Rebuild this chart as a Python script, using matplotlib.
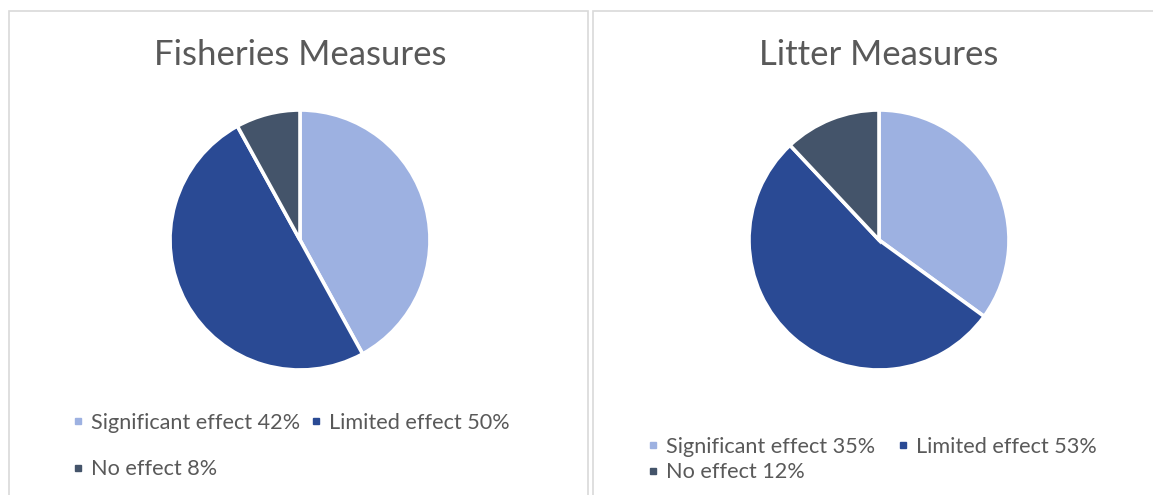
import matplotlib
matplotlib.use("Agg")
import matplotlib.pyplot as plt
from matplotlib.patches import Rectangle
from matplotlib.lines import Line2D

# Survey results: share of respondents per perceived effect
categories = ["Significant effect", "Limited effect", "No effect"]
fisheries_values = [42, 50, 8]
litter_values = [35, 53, 12]
titles = ["Fisheries Measures", "Litter Measures"]
colors = ["#9DB1E1", "#2A4A94", "#44546A"]

W, H = 1153, 495
DPI = 100
fig = plt.figure(figsize=(W / DPI, H / DPI), dpi=DPI)
fig.patch.set_facecolor("white")

FONT = ["Lato", "DejaVu Sans"]
TEXT_COLOR = "#595959"


def px_box(x0, y0, x1, y1):
    """Convert a pixel box (top-left origin) into figure fractions."""
    return [x0 / W, 1 - y1 / H, (x1 - x0) / W, (y1 - y0) / H]


# Chart area borders
for x0, x1 in [(9, 588), (593, 1160)]:
    fig.patches.append(Rectangle((x0 / W, -0.05), (x1 - x0) / W, 1.05 - 10.5 / H,
                                 transform=fig.transFigure, fill=False,
                                 edgecolor="#D9D9D9", linewidth=1.2))

panels = [
    dict(values=fisheries_values, title=titles[0], cx=300, cy=240, r=130,
         title_y=55, leg_x=73, leg_y=413, colspace=0.47, labelspace=1.22),
    dict(values=litter_values, title=titles[1], cx=879, cy=240, r=130,
         title_y=55, leg_x=648, leg_y=437, colspace=1.0, labelspace=0.25),
]

for p in panels:
    ax = fig.add_axes(px_box(p["cx"] - p["r"], p["cy"] - p["r"],
                             p["cx"] + p["r"], p["cy"] + p["r"]))
    ax.pie(p["values"], colors=colors, startangle=90, counterclock=False,
           radius=1.0, wedgeprops=dict(edgecolor="white", linewidth=2.6))
    ax.set_xlim(-1.0, 1.0)
    ax.set_ylim(-1.0, 1.0)
    ax.set_aspect("equal")
    ax.axis("off")

    fig.text(p["cx"] / W, 1 - p["title_y"] / H, p["title"], ha="center",
             va="center", fontsize=25, color=TEXT_COLOR, family=FONT)

    labels = [f"{c} {v}%" for c, v in zip(categories, p["values"])]
    handles = [Line2D([], [], linestyle="none", marker="s", markersize=5,
                      markerfacecolor=col, markeredgecolor=col) for col in colors]
    order = [0, 2, 1]
    leg = fig.legend([handles[i] for i in order], [labels[i] for i in order],
                     ncol=2, loc="upper left",
                     bbox_to_anchor=(p["leg_x"] / W, 1 - p["leg_y"] / H),
                     frameon=False, handlelength=0.5, handletextpad=0.35,
                     columnspacing=p["colspace"], labelspacing=p["labelspace"],
                     borderpad=0, borderaxespad=0,
                     prop=dict(family=FONT, size=15.6))
    for t in leg.get_texts():
        t.set_color(TEXT_COLOR)

fig.savefig("out.png", dpi=DPI, facecolor="white")
